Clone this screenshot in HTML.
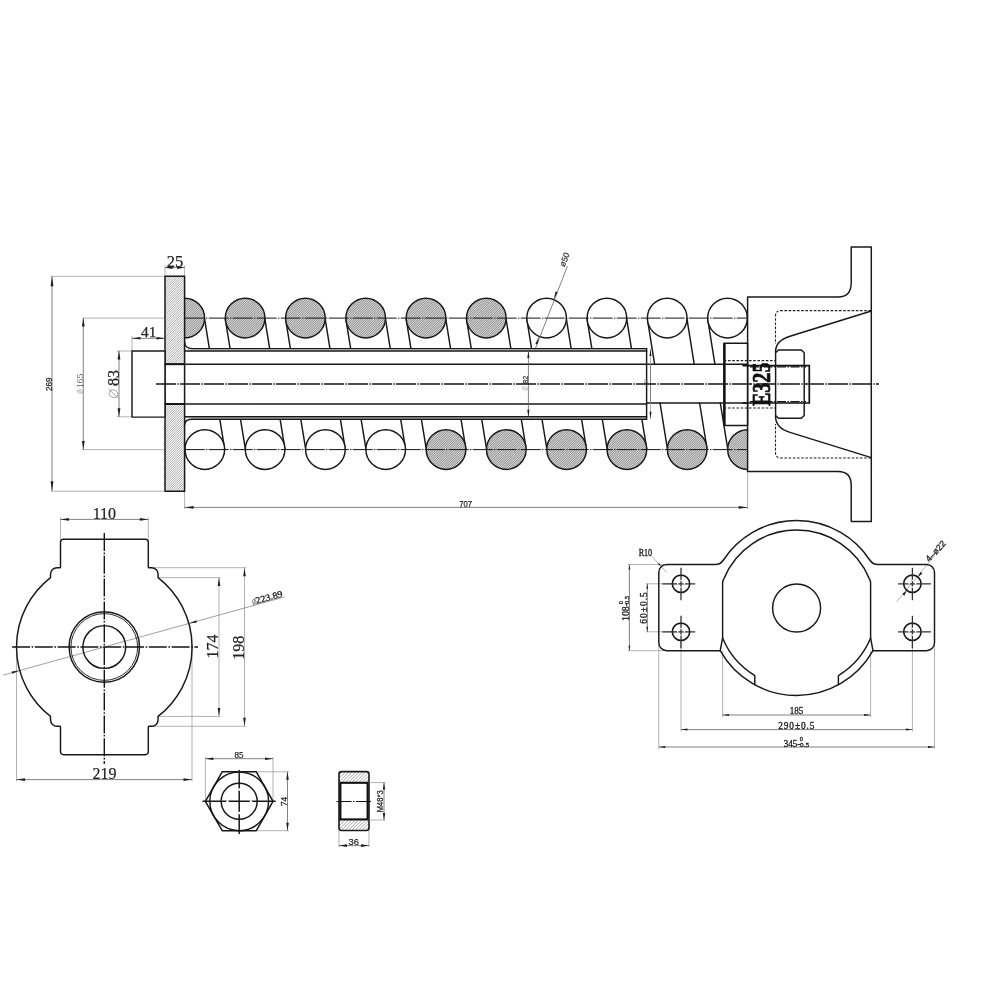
<!DOCTYPE html>
<html><head><meta charset="utf-8"><title>Drawing</title>
<style>html,body{margin:0;padding:0;background:#fff;}body{width:1000px;height:1000px;overflow:hidden;font-family:"Liberation Sans",sans-serif;}svg{display:block;filter:blur(0.3px)}</style>
</head><body>
<svg width="1000" height="1000" viewBox="0 0 1000 1000">
<defs>
<pattern id="h1" width="1.6" height="1.6" patternUnits="userSpaceOnUse" patternTransform="rotate(-45)"><rect width="1.6" height="1.6" fill="#fff"/><line x1="0" y1="0.8" x2="1.6" y2="0.8" stroke="#8a8a8a" stroke-width="0.55"/></pattern>
<pattern id="h2" width="1.7" height="1.7" patternUnits="userSpaceOnUse" patternTransform="rotate(-45)"><rect width="1.7" height="1.7" fill="#dcdcdc"/><line x1="0" y1="0.85" x2="1.7" y2="0.85" stroke="#6a6a6a" stroke-width="0.8"/></pattern>
<pattern id="h3" width="3" height="3" patternUnits="userSpaceOnUse" patternTransform="rotate(-45)"><rect width="3" height="3" fill="#fff"/><line x1="0" y1="1.5" x2="3" y2="1.5" stroke="#8a8a8a" stroke-width="0.8"/></pattern>
</defs>
<style>
.m{stroke:#181818;stroke-width:1.45;fill:none;stroke-linecap:round;stroke-linejoin:round}
.k{stroke:#111;stroke-width:1.9;fill:none;stroke-linecap:butt}
.t{stroke:#5a5a5a;stroke-width:0.75;fill:none}
.g{stroke:#9a9a9a;stroke-width:0.75;fill:none}
.c{stroke:#141414;stroke-width:1.4;fill:none;stroke-dasharray:20 1.3 1.4 1.3}
.c2{stroke:#141414;stroke-width:1.0;fill:none;stroke-dasharray:20 1.3 1.4 1.3}
.d{stroke:#222;stroke-width:1.1;fill:none;stroke-dasharray:2.6 1.6}
.af{fill:#1e1e1e;stroke:none}
</style>
<rect width="1000" height="1000" fill="#fff"/>

<line x1="51.00" y1="276.30" x2="165.00" y2="276.30" class="g" />
<line x1="51.00" y1="491.20" x2="165.00" y2="491.20" class="g" />
<line x1="52.00" y1="276.30" x2="52.00" y2="491.20" class="t" />
<polygon class="af" points="52.00,276.30 50.60,286.30 53.40,286.30"/>
<polygon class="af" points="52.00,491.20 53.40,481.20 50.60,481.20"/>
<text x="52.30" y="384.30" font-family="Liberation Sans" font-size="9.4" text-anchor="middle" fill="#222" transform="rotate(-90.00 52.30 384.30)"  textLength="13.5" lengthAdjust="spacingAndGlyphs" stroke="#222" stroke-width="0.25">269</text>
<line x1="82.00" y1="318.10" x2="165.00" y2="318.10" class="g" />
<line x1="82.00" y1="449.60" x2="165.00" y2="449.60" class="g" />
<line x1="83.30" y1="318.10" x2="83.30" y2="449.60" class="t" />
<polygon class="af" points="83.30,318.10 81.90,326.60 84.70,326.60"/>
<polygon class="af" points="83.30,449.60 84.70,441.10 81.90,441.10"/>
<text x="82.70" y="380.80" font-family="Liberation Serif" font-size="8.6" text-anchor="middle" fill="#555" transform="rotate(-90.00 82.70 380.80)"  textLength="14.5" lengthAdjust="spacingAndGlyphs">165</text>
<g transform="rotate(-90.00 80.00 391.60)"><ellipse cx="80.00" cy="391.60" rx="1.9" ry="2.5" fill="none" stroke="#999" stroke-width="0.6"/><line x1="78.48" y1="395.10" x2="81.52" y2="388.10" stroke="#999" stroke-width="0.6"/></g>
<line x1="117.00" y1="351.00" x2="132.00" y2="351.00" class="g" />
<line x1="117.00" y1="416.80" x2="132.00" y2="416.80" class="g" />
<line x1="119.00" y1="351.00" x2="119.00" y2="416.80" class="t" />
<polygon class="af" points="119.00,351.00 117.60,359.50 120.40,359.50"/>
<polygon class="af" points="119.00,416.80 120.40,408.30 117.60,408.30"/>
<text x="119.00" y="378.00" font-family="Liberation Serif" font-size="16" text-anchor="middle" fill="#222" transform="rotate(-90.00 119.00 378.00)"  stroke="#222" stroke-width="0.25">83</text>
<g transform="rotate(-72.00 113.50 393.70)"><ellipse cx="113.50" cy="393.70" rx="3.6" ry="4.4" fill="none" stroke="#888" stroke-width="0.7"/><line x1="110.62" y1="399.86" x2="116.38" y2="387.54" stroke="#888" stroke-width="0.7"/></g>
<line x1="132.00" y1="336.00" x2="132.00" y2="351.00" class="g" />
<line x1="132.00" y1="338.30" x2="165.00" y2="338.30" class="t" />
<polygon class="af" points="132.00,338.30 140.50,339.60 140.50,337.00"/>
<polygon class="af" points="165.00,338.30 156.50,337.00 156.50,339.60"/>
<text x="148.70" y="336.60" font-family="Liberation Serif" font-size="15.3" text-anchor="middle" fill="#222"  stroke="#222" stroke-width="0.25">41</text>
<line x1="165.00" y1="265.50" x2="165.00" y2="276.30" class="g" />
<line x1="184.60" y1="265.50" x2="184.60" y2="276.30" class="g" />
<line x1="165.00" y1="267.60" x2="184.60" y2="267.60" class="t" />
<polygon class="af" points="165.00,267.60 172.50,269.00 172.50,266.20"/>
<polygon class="af" points="184.60,267.60 177.10,266.20 177.10,269.00"/>
<text x="174.90" y="267.20" font-family="Liberation Serif" font-size="17.5" text-anchor="middle" fill="#222"  textLength="16.5" lengthAdjust="spacingAndGlyphs" stroke="#222" stroke-width="0.25">25</text>
<line x1="184.60" y1="491.20" x2="184.60" y2="509.00" class="g" />
<line x1="747.60" y1="471.00" x2="747.60" y2="509.00" class="g" />
<line x1="184.60" y1="507.40" x2="747.60" y2="507.40" class="t" />
<polygon class="af" points="184.60,507.40 193.60,508.70 193.60,506.10"/>
<polygon class="af" points="747.60,507.40 738.60,506.10 738.60,508.70"/>
<text x="465.60" y="507.00" font-family="Liberation Sans" font-size="9.2" text-anchor="middle" fill="#222"  textLength="12.8" lengthAdjust="spacingAndGlyphs" stroke="#222" stroke-width="0.25">707</text>
<line x1="165.00" y1="318.10" x2="184.70" y2="318.10" class="g" />
<line x1="165.00" y1="449.60" x2="184.70" y2="449.60" class="g" />
<line x1="204.60" y1="319.10" x2="209.37" y2="348.60" class="m" />
<line x1="225.30" y1="319.10" x2="230.07" y2="348.60" class="m" />
<line x1="264.90" y1="319.10" x2="269.67" y2="348.60" class="m" />
<line x1="285.60" y1="319.10" x2="290.37" y2="348.60" class="m" />
<line x1="325.20" y1="319.10" x2="329.97" y2="348.60" class="m" />
<line x1="345.90" y1="319.10" x2="350.67" y2="348.60" class="m" />
<line x1="385.50" y1="319.10" x2="390.27" y2="348.60" class="m" />
<line x1="406.20" y1="319.10" x2="410.97" y2="348.60" class="m" />
<line x1="445.80" y1="319.10" x2="450.57" y2="348.60" class="m" />
<line x1="466.50" y1="319.10" x2="471.27" y2="348.60" class="m" />
<line x1="506.10" y1="319.10" x2="510.87" y2="348.60" class="m" />
<line x1="526.80" y1="319.10" x2="531.57" y2="348.60" class="m" />
<line x1="566.40" y1="319.10" x2="571.17" y2="348.60" class="m" />
<line x1="587.10" y1="319.10" x2="591.87" y2="348.60" class="m" />
<line x1="626.70" y1="319.10" x2="631.47" y2="348.60" class="m" />
<line x1="647.40" y1="319.10" x2="654.60" y2="364.20" class="m" />
<line x1="687.00" y1="319.10" x2="694.20" y2="364.20" class="m" />
<line x1="707.70" y1="319.10" x2="714.90" y2="364.20" class="m" />
<line x1="180.17" y1="419.20" x2="185.00" y2="448.60" class="m" />
<line x1="219.77" y1="419.20" x2="224.60" y2="448.60" class="m" />
<line x1="240.47" y1="419.20" x2="245.30" y2="448.60" class="m" />
<line x1="280.07" y1="419.20" x2="284.90" y2="448.60" class="m" />
<line x1="300.77" y1="419.20" x2="305.60" y2="448.60" class="m" />
<line x1="340.37" y1="419.20" x2="345.20" y2="448.60" class="m" />
<line x1="361.07" y1="419.20" x2="365.90" y2="448.60" class="m" />
<line x1="400.67" y1="419.20" x2="405.50" y2="448.60" class="m" />
<line x1="421.37" y1="419.20" x2="426.20" y2="448.60" class="m" />
<line x1="460.97" y1="419.20" x2="465.80" y2="448.60" class="m" />
<line x1="481.67" y1="419.20" x2="486.50" y2="448.60" class="m" />
<line x1="521.27" y1="419.20" x2="526.10" y2="448.60" class="m" />
<line x1="541.97" y1="419.20" x2="546.80" y2="448.60" class="m" />
<line x1="581.57" y1="419.20" x2="586.40" y2="448.60" class="m" />
<line x1="602.27" y1="419.20" x2="607.10" y2="448.60" class="m" />
<line x1="641.87" y1="419.20" x2="646.70" y2="448.60" class="m" />
<line x1="660.00" y1="403.00" x2="667.40" y2="448.60" class="m" />
<line x1="699.60" y1="403.00" x2="707.00" y2="448.60" class="m" />
<line x1="720.30" y1="403.00" x2="727.70" y2="448.60" class="m" />
<clipPath id="cpm"><rect x="184.6" y="200" width="563.0" height="400"/></clipPath>
<g clip-path="url(#cpm)">
<circle cx="184.80" cy="318.1" r="19.8" fill="#fff"/>
<circle cx="245.10" cy="318.1" r="19.8" fill="#fff"/>
<circle cx="305.40" cy="318.1" r="19.8" fill="#fff"/>
<circle cx="365.70" cy="318.1" r="19.8" fill="#fff"/>
<circle cx="426.00" cy="318.1" r="19.8" fill="#fff"/>
<circle cx="486.30" cy="318.1" r="19.8" fill="#fff"/>
<circle cx="546.60" cy="318.1" r="19.8" fill="#fff"/>
<circle cx="606.90" cy="318.1" r="19.8" fill="#fff"/>
<circle cx="667.20" cy="318.1" r="19.8" fill="#fff"/>
<circle cx="727.50" cy="318.1" r="19.8" fill="#fff"/>
<circle cx="204.80" cy="449.6" r="19.8" fill="#fff"/>
<circle cx="265.10" cy="449.6" r="19.8" fill="#fff"/>
<circle cx="325.40" cy="449.6" r="19.8" fill="#fff"/>
<circle cx="385.70" cy="449.6" r="19.8" fill="#fff"/>
<circle cx="446.00" cy="449.6" r="19.8" fill="#fff"/>
<circle cx="506.30" cy="449.6" r="19.8" fill="#fff"/>
<circle cx="566.60" cy="449.6" r="19.8" fill="#fff"/>
<circle cx="626.90" cy="449.6" r="19.8" fill="#fff"/>
<circle cx="687.20" cy="449.6" r="19.8" fill="#fff"/>
<circle cx="747.50" cy="449.6" r="19.8" fill="#fff"/>
</g>
<clipPath id="hc1"><circle cx="245.10" cy="318.1" r="19.8"/><circle cx="305.40" cy="318.1" r="19.8"/><circle cx="365.70" cy="318.1" r="19.8"/><circle cx="426.00" cy="318.1" r="19.8"/><circle cx="486.30" cy="318.1" r="19.8"/><path d="M184.6,298.3 A19.8,19.8 0 0 1 184.6,337.90000000000003 Z"/></clipPath>
<g clip-path="url(#hc1)">
<rect x="184.6" y="297.3" width="322.5" height="41.60000000000002" fill="#d6d6d6"/>
<path d="M143.00,338.90l41.60,-41.60M145.28,338.90l41.60,-41.60M147.56,338.90l41.60,-41.60M149.84,338.90l41.60,-41.60M152.12,338.90l41.60,-41.60M154.40,338.90l41.60,-41.60M156.68,338.90l41.60,-41.60M158.96,338.90l41.60,-41.60M161.24,338.90l41.60,-41.60M163.52,338.90l41.60,-41.60M165.80,338.90l41.60,-41.60M168.08,338.90l41.60,-41.60M170.36,338.90l41.60,-41.60M172.64,338.90l41.60,-41.60M174.92,338.90l41.60,-41.60M177.20,338.90l41.60,-41.60M179.48,338.90l41.60,-41.60M181.76,338.90l41.60,-41.60M184.04,338.90l41.60,-41.60M186.32,338.90l41.60,-41.60M188.60,338.90l41.60,-41.60M190.88,338.90l41.60,-41.60M193.16,338.90l41.60,-41.60M195.44,338.90l41.60,-41.60M197.72,338.90l41.60,-41.60M200.00,338.90l41.60,-41.60M202.28,338.90l41.60,-41.60M204.56,338.90l41.60,-41.60M206.84,338.90l41.60,-41.60M209.12,338.90l41.60,-41.60M211.40,338.90l41.60,-41.60M213.68,338.90l41.60,-41.60M215.96,338.90l41.60,-41.60M218.24,338.90l41.60,-41.60M220.52,338.90l41.60,-41.60M222.80,338.90l41.60,-41.60M225.08,338.90l41.60,-41.60M227.36,338.90l41.60,-41.60M229.64,338.90l41.60,-41.60M231.92,338.90l41.60,-41.60M234.20,338.90l41.60,-41.60M236.48,338.90l41.60,-41.60M238.76,338.90l41.60,-41.60M241.04,338.90l41.60,-41.60M243.32,338.90l41.60,-41.60M245.60,338.90l41.60,-41.60M247.88,338.90l41.60,-41.60M250.16,338.90l41.60,-41.60M252.44,338.90l41.60,-41.60M254.72,338.90l41.60,-41.60M257.00,338.90l41.60,-41.60M259.28,338.90l41.60,-41.60M261.56,338.90l41.60,-41.60M263.84,338.90l41.60,-41.60M266.12,338.90l41.60,-41.60M268.40,338.90l41.60,-41.60M270.68,338.90l41.60,-41.60M272.96,338.90l41.60,-41.60M275.24,338.90l41.60,-41.60M277.52,338.90l41.60,-41.60M279.80,338.90l41.60,-41.60M282.08,338.90l41.60,-41.60M284.36,338.90l41.60,-41.60M286.64,338.90l41.60,-41.60M288.92,338.90l41.60,-41.60M291.20,338.90l41.60,-41.60M293.48,338.90l41.60,-41.60M295.76,338.90l41.60,-41.60M298.04,338.90l41.60,-41.60M300.32,338.90l41.60,-41.60M302.60,338.90l41.60,-41.60M304.88,338.90l41.60,-41.60M307.16,338.90l41.60,-41.60M309.44,338.90l41.60,-41.60M311.72,338.90l41.60,-41.60M314.00,338.90l41.60,-41.60M316.28,338.90l41.60,-41.60M318.56,338.90l41.60,-41.60M320.84,338.90l41.60,-41.60M323.12,338.90l41.60,-41.60M325.40,338.90l41.60,-41.60M327.68,338.90l41.60,-41.60M329.96,338.90l41.60,-41.60M332.24,338.90l41.60,-41.60M334.52,338.90l41.60,-41.60M336.80,338.90l41.60,-41.60M339.08,338.90l41.60,-41.60M341.36,338.90l41.60,-41.60M343.64,338.90l41.60,-41.60M345.92,338.90l41.60,-41.60M348.20,338.90l41.60,-41.60M350.48,338.90l41.60,-41.60M352.76,338.90l41.60,-41.60M355.04,338.90l41.60,-41.60M357.32,338.90l41.60,-41.60M359.60,338.90l41.60,-41.60M361.88,338.90l41.60,-41.60M364.16,338.90l41.60,-41.60M366.44,338.90l41.60,-41.60M368.72,338.90l41.60,-41.60M371.00,338.90l41.60,-41.60M373.28,338.90l41.60,-41.60M375.56,338.90l41.60,-41.60M377.84,338.90l41.60,-41.60M380.12,338.90l41.60,-41.60M382.40,338.90l41.60,-41.60M384.68,338.90l41.60,-41.60M386.96,338.90l41.60,-41.60M389.24,338.90l41.60,-41.60M391.52,338.90l41.60,-41.60M393.80,338.90l41.60,-41.60M396.08,338.90l41.60,-41.60M398.36,338.90l41.60,-41.60M400.64,338.90l41.60,-41.60M402.92,338.90l41.60,-41.60M405.20,338.90l41.60,-41.60M407.48,338.90l41.60,-41.60M409.76,338.90l41.60,-41.60M412.04,338.90l41.60,-41.60M414.32,338.90l41.60,-41.60M416.60,338.90l41.60,-41.60M418.88,338.90l41.60,-41.60M421.16,338.90l41.60,-41.60M423.44,338.90l41.60,-41.60M425.72,338.90l41.60,-41.60M428.00,338.90l41.60,-41.60M430.28,338.90l41.60,-41.60M432.56,338.90l41.60,-41.60M434.84,338.90l41.60,-41.60M437.12,338.90l41.60,-41.60M439.40,338.90l41.60,-41.60M441.68,338.90l41.60,-41.60M443.96,338.90l41.60,-41.60M446.24,338.90l41.60,-41.60M448.52,338.90l41.60,-41.60M450.80,338.90l41.60,-41.60M453.08,338.90l41.60,-41.60M455.36,338.90l41.60,-41.60M457.64,338.90l41.60,-41.60M459.92,338.90l41.60,-41.60M462.20,338.90l41.60,-41.60M464.48,338.90l41.60,-41.60M466.76,338.90l41.60,-41.60M469.04,338.90l41.60,-41.60M471.32,338.90l41.60,-41.60M473.60,338.90l41.60,-41.60M475.88,338.90l41.60,-41.60M478.16,338.90l41.60,-41.60M480.44,338.90l41.60,-41.60M482.72,338.90l41.60,-41.60M485.00,338.90l41.60,-41.60M487.28,338.90l41.60,-41.60M489.56,338.90l41.60,-41.60M491.84,338.90l41.60,-41.60M494.12,338.90l41.60,-41.60M496.40,338.90l41.60,-41.60M498.68,338.90l41.60,-41.60M500.96,338.90l41.60,-41.60M503.24,338.90l41.60,-41.60M505.52,338.90l41.60,-41.60" stroke="#6e6e6e" stroke-width="0.7" fill="none"/>
</g>
<clipPath id="hc2"><circle cx="446.00" cy="449.6" r="19.8"/><circle cx="506.30" cy="449.6" r="19.8"/><circle cx="566.60" cy="449.6" r="19.8"/><circle cx="626.90" cy="449.6" r="19.8"/><circle cx="687.20" cy="449.6" r="19.8"/><path d="M747.6,429.8 A19.8,19.8 0 0 0 747.6,469.40000000000003 Z"/></clipPath>
<g clip-path="url(#hc2)">
<rect x="425.2" y="428.8" width="322.40000000000003" height="41.60000000000002" fill="#d6d6d6"/>
<path d="M383.60,470.40l41.60,-41.60M385.88,470.40l41.60,-41.60M388.16,470.40l41.60,-41.60M390.44,470.40l41.60,-41.60M392.72,470.40l41.60,-41.60M395.00,470.40l41.60,-41.60M397.28,470.40l41.60,-41.60M399.56,470.40l41.60,-41.60M401.84,470.40l41.60,-41.60M404.12,470.40l41.60,-41.60M406.40,470.40l41.60,-41.60M408.68,470.40l41.60,-41.60M410.96,470.40l41.60,-41.60M413.24,470.40l41.60,-41.60M415.52,470.40l41.60,-41.60M417.80,470.40l41.60,-41.60M420.08,470.40l41.60,-41.60M422.36,470.40l41.60,-41.60M424.64,470.40l41.60,-41.60M426.92,470.40l41.60,-41.60M429.20,470.40l41.60,-41.60M431.48,470.40l41.60,-41.60M433.76,470.40l41.60,-41.60M436.04,470.40l41.60,-41.60M438.32,470.40l41.60,-41.60M440.60,470.40l41.60,-41.60M442.88,470.40l41.60,-41.60M445.16,470.40l41.60,-41.60M447.44,470.40l41.60,-41.60M449.72,470.40l41.60,-41.60M452.00,470.40l41.60,-41.60M454.28,470.40l41.60,-41.60M456.56,470.40l41.60,-41.60M458.84,470.40l41.60,-41.60M461.12,470.40l41.60,-41.60M463.40,470.40l41.60,-41.60M465.68,470.40l41.60,-41.60M467.96,470.40l41.60,-41.60M470.24,470.40l41.60,-41.60M472.52,470.40l41.60,-41.60M474.80,470.40l41.60,-41.60M477.08,470.40l41.60,-41.60M479.36,470.40l41.60,-41.60M481.64,470.40l41.60,-41.60M483.92,470.40l41.60,-41.60M486.20,470.40l41.60,-41.60M488.48,470.40l41.60,-41.60M490.76,470.40l41.60,-41.60M493.04,470.40l41.60,-41.60M495.32,470.40l41.60,-41.60M497.60,470.40l41.60,-41.60M499.88,470.40l41.60,-41.60M502.16,470.40l41.60,-41.60M504.44,470.40l41.60,-41.60M506.72,470.40l41.60,-41.60M509.00,470.40l41.60,-41.60M511.28,470.40l41.60,-41.60M513.56,470.40l41.60,-41.60M515.84,470.40l41.60,-41.60M518.12,470.40l41.60,-41.60M520.40,470.40l41.60,-41.60M522.68,470.40l41.60,-41.60M524.96,470.40l41.60,-41.60M527.24,470.40l41.60,-41.60M529.52,470.40l41.60,-41.60M531.80,470.40l41.60,-41.60M534.08,470.40l41.60,-41.60M536.36,470.40l41.60,-41.60M538.64,470.40l41.60,-41.60M540.92,470.40l41.60,-41.60M543.20,470.40l41.60,-41.60M545.48,470.40l41.60,-41.60M547.76,470.40l41.60,-41.60M550.04,470.40l41.60,-41.60M552.32,470.40l41.60,-41.60M554.60,470.40l41.60,-41.60M556.88,470.40l41.60,-41.60M559.16,470.40l41.60,-41.60M561.44,470.40l41.60,-41.60M563.72,470.40l41.60,-41.60M566.00,470.40l41.60,-41.60M568.28,470.40l41.60,-41.60M570.56,470.40l41.60,-41.60M572.84,470.40l41.60,-41.60M575.12,470.40l41.60,-41.60M577.40,470.40l41.60,-41.60M579.68,470.40l41.60,-41.60M581.96,470.40l41.60,-41.60M584.24,470.40l41.60,-41.60M586.52,470.40l41.60,-41.60M588.80,470.40l41.60,-41.60M591.08,470.40l41.60,-41.60M593.36,470.40l41.60,-41.60M595.64,470.40l41.60,-41.60M597.92,470.40l41.60,-41.60M600.20,470.40l41.60,-41.60M602.48,470.40l41.60,-41.60M604.76,470.40l41.60,-41.60M607.04,470.40l41.60,-41.60M609.32,470.40l41.60,-41.60M611.60,470.40l41.60,-41.60M613.88,470.40l41.60,-41.60M616.16,470.40l41.60,-41.60M618.44,470.40l41.60,-41.60M620.72,470.40l41.60,-41.60M623.00,470.40l41.60,-41.60M625.28,470.40l41.60,-41.60M627.56,470.40l41.60,-41.60M629.84,470.40l41.60,-41.60M632.12,470.40l41.60,-41.60M634.40,470.40l41.60,-41.60M636.68,470.40l41.60,-41.60M638.96,470.40l41.60,-41.60M641.24,470.40l41.60,-41.60M643.52,470.40l41.60,-41.60M645.80,470.40l41.60,-41.60M648.08,470.40l41.60,-41.60M650.36,470.40l41.60,-41.60M652.64,470.40l41.60,-41.60M654.92,470.40l41.60,-41.60M657.20,470.40l41.60,-41.60M659.48,470.40l41.60,-41.60M661.76,470.40l41.60,-41.60M664.04,470.40l41.60,-41.60M666.32,470.40l41.60,-41.60M668.60,470.40l41.60,-41.60M670.88,470.40l41.60,-41.60M673.16,470.40l41.60,-41.60M675.44,470.40l41.60,-41.60M677.72,470.40l41.60,-41.60M680.00,470.40l41.60,-41.60M682.28,470.40l41.60,-41.60M684.56,470.40l41.60,-41.60M686.84,470.40l41.60,-41.60M689.12,470.40l41.60,-41.60M691.40,470.40l41.60,-41.60M693.68,470.40l41.60,-41.60M695.96,470.40l41.60,-41.60M698.24,470.40l41.60,-41.60M700.52,470.40l41.60,-41.60M702.80,470.40l41.60,-41.60M705.08,470.40l41.60,-41.60M707.36,470.40l41.60,-41.60M709.64,470.40l41.60,-41.60M711.92,470.40l41.60,-41.60M714.20,470.40l41.60,-41.60M716.48,470.40l41.60,-41.60M718.76,470.40l41.60,-41.60M721.04,470.40l41.60,-41.60M723.32,470.40l41.60,-41.60M725.60,470.40l41.60,-41.60M727.88,470.40l41.60,-41.60M730.16,470.40l41.60,-41.60M732.44,470.40l41.60,-41.60M734.72,470.40l41.60,-41.60M737.00,470.40l41.60,-41.60M739.28,470.40l41.60,-41.60M741.56,470.40l41.60,-41.60M743.84,470.40l41.60,-41.60M746.12,470.40l41.60,-41.60" stroke="#6e6e6e" stroke-width="0.7" fill="none"/>
</g>
<g clip-path="url(#cpm)">
<circle cx="184.80" cy="318.1" r="19.8" class="m"/>
<circle cx="245.10" cy="318.1" r="19.8" class="m"/>
<circle cx="305.40" cy="318.1" r="19.8" class="m"/>
<circle cx="365.70" cy="318.1" r="19.8" class="m"/>
<circle cx="426.00" cy="318.1" r="19.8" class="m"/>
<circle cx="486.30" cy="318.1" r="19.8" class="m"/>
<circle cx="546.60" cy="318.1" r="19.8" class="m"/>
<circle cx="606.90" cy="318.1" r="19.8" class="m"/>
<circle cx="667.20" cy="318.1" r="19.8" class="m"/>
<circle cx="727.50" cy="318.1" r="19.8" class="m"/>
<circle cx="204.80" cy="449.6" r="19.8" class="m"/>
<circle cx="265.10" cy="449.6" r="19.8" class="m"/>
<circle cx="325.40" cy="449.6" r="19.8" class="m"/>
<circle cx="385.70" cy="449.6" r="19.8" class="m"/>
<circle cx="446.00" cy="449.6" r="19.8" class="m"/>
<circle cx="506.30" cy="449.6" r="19.8" class="m"/>
<circle cx="566.60" cy="449.6" r="19.8" class="m"/>
<circle cx="626.90" cy="449.6" r="19.8" class="m"/>
<circle cx="687.20" cy="449.6" r="19.8" class="m"/>
<circle cx="747.50" cy="449.6" r="19.8" class="m"/>
</g>
<line x1="184.70" y1="318.10" x2="747.00" y2="318.10" class="c2" />
<line x1="184.70" y1="449.60" x2="747.00" y2="449.60" class="c2" />
<clipPath id="hc3"><rect x="165.0" y="276.3" width="19.599999999999994" height="87.89999999999998"/><rect x="165.0" y="404.0" width="19.599999999999994" height="87.19999999999999"/></clipPath>
<g clip-path="url(#hc3)">
<rect x="165.0" y="276.3" width="19.599999999999994" height="214.89999999999998" fill="#ffffff"/>
<path d="M-49.90,491.20l214.90,-214.90M-47.62,491.20l214.90,-214.90M-45.34,491.20l214.90,-214.90M-43.06,491.20l214.90,-214.90M-40.78,491.20l214.90,-214.90M-38.50,491.20l214.90,-214.90M-36.22,491.20l214.90,-214.90M-33.94,491.20l214.90,-214.90M-31.66,491.20l214.90,-214.90M-29.38,491.20l214.90,-214.90M-27.10,491.20l214.90,-214.90M-24.82,491.20l214.90,-214.90M-22.54,491.20l214.90,-214.90M-20.26,491.20l214.90,-214.90M-17.98,491.20l214.90,-214.90M-15.70,491.20l214.90,-214.90M-13.42,491.20l214.90,-214.90M-11.14,491.20l214.90,-214.90M-8.86,491.20l214.90,-214.90M-6.58,491.20l214.90,-214.90M-4.30,491.20l214.90,-214.90M-2.02,491.20l214.90,-214.90M0.26,491.20l214.90,-214.90M2.54,491.20l214.90,-214.90M4.82,491.20l214.90,-214.90M7.10,491.20l214.90,-214.90M9.38,491.20l214.90,-214.90M11.66,491.20l214.90,-214.90M13.94,491.20l214.90,-214.90M16.22,491.20l214.90,-214.90M18.50,491.20l214.90,-214.90M20.78,491.20l214.90,-214.90M23.06,491.20l214.90,-214.90M25.34,491.20l214.90,-214.90M27.62,491.20l214.90,-214.90M29.90,491.20l214.90,-214.90M32.18,491.20l214.90,-214.90M34.46,491.20l214.90,-214.90M36.74,491.20l214.90,-214.90M39.02,491.20l214.90,-214.90M41.30,491.20l214.90,-214.90M43.58,491.20l214.90,-214.90M45.86,491.20l214.90,-214.90M48.14,491.20l214.90,-214.90M50.42,491.20l214.90,-214.90M52.70,491.20l214.90,-214.90M54.98,491.20l214.90,-214.90M57.26,491.20l214.90,-214.90M59.54,491.20l214.90,-214.90M61.82,491.20l214.90,-214.90M64.10,491.20l214.90,-214.90M66.38,491.20l214.90,-214.90M68.66,491.20l214.90,-214.90M70.94,491.20l214.90,-214.90M73.22,491.20l214.90,-214.90M75.50,491.20l214.90,-214.90M77.78,491.20l214.90,-214.90M80.06,491.20l214.90,-214.90M82.34,491.20l214.90,-214.90M84.62,491.20l214.90,-214.90M86.90,491.20l214.90,-214.90M89.18,491.20l214.90,-214.90M91.46,491.20l214.90,-214.90M93.74,491.20l214.90,-214.90M96.02,491.20l214.90,-214.90M98.30,491.20l214.90,-214.90M100.58,491.20l214.90,-214.90M102.86,491.20l214.90,-214.90M105.14,491.20l214.90,-214.90M107.42,491.20l214.90,-214.90M109.70,491.20l214.90,-214.90M111.98,491.20l214.90,-214.90M114.26,491.20l214.90,-214.90M116.54,491.20l214.90,-214.90M118.82,491.20l214.90,-214.90M121.10,491.20l214.90,-214.90M123.38,491.20l214.90,-214.90M125.66,491.20l214.90,-214.90M127.94,491.20l214.90,-214.90M130.22,491.20l214.90,-214.90M132.50,491.20l214.90,-214.90M134.78,491.20l214.90,-214.90M137.06,491.20l214.90,-214.90M139.34,491.20l214.90,-214.90M141.62,491.20l214.90,-214.90M143.90,491.20l214.90,-214.90M146.18,491.20l214.90,-214.90M148.46,491.20l214.90,-214.90M150.74,491.20l214.90,-214.90M153.02,491.20l214.90,-214.90M155.30,491.20l214.90,-214.90M157.58,491.20l214.90,-214.90M159.86,491.20l214.90,-214.90M162.14,491.20l214.90,-214.90M164.42,491.20l214.90,-214.90M166.70,491.20l214.90,-214.90M168.98,491.20l214.90,-214.90M171.26,491.20l214.90,-214.90M173.54,491.20l214.90,-214.90M175.82,491.20l214.90,-214.90M178.10,491.20l214.90,-214.90M180.38,491.20l214.90,-214.90M182.66,491.20l214.90,-214.90" stroke="#858585" stroke-width="0.7" fill="none"/>
</g>
<rect x="165.0" y="276.3" width="19.599999999999994" height="214.89999999999998" class="m" style="stroke-width:1.5"/>
<rect x="132" y="351.0" width="33" height="66.10000000000001" class="m" style="fill:#fff"/>
<rect x="187.6" y="348.6" width="459.0" height="2.4" fill="#dadada"/>
<rect x="187.6" y="416.8" width="459.0" height="2.4" fill="#dadada"/>
<path class="m" d="M184.6,342.0 Q184.9,348.6 192.1,348.6 L646.6,348.6"/>
<path class="m" d="M184.6,424.8 Q184.9,419.2 192.1,419.2 L646.6,419.2"/>
<line x1="184.60" y1="351.00" x2="646.60" y2="351.00" class="m" />
<line x1="184.60" y1="416.80" x2="646.60" y2="416.80" class="m" />
<line x1="646.60" y1="348.60" x2="646.60" y2="419.20" class="m" />
<line x1="165.00" y1="364.20" x2="723.80" y2="364.20" class="m" />
<line x1="165.00" y1="404.00" x2="646.60" y2="404.00" class="m" />
<line x1="646.60" y1="403.00" x2="723.80" y2="403.00" class="m" />
<line x1="165.00" y1="364.20" x2="184.60" y2="364.20" class="k" />
<line x1="165.00" y1="404.00" x2="184.60" y2="404.00" class="k" />
<line x1="650.50" y1="364.20" x2="650.50" y2="403.00" class="m" style="stroke-width:0.9"/>
<line x1="650.50" y1="349.00" x2="650.50" y2="418.80" class="g" />
<polygon class="af" points="650.50,349.00 649.50,356.00 651.50,356.00"/>
<polygon class="af" points="650.50,418.80 651.50,411.80 649.50,411.80"/>
<text x="648.30" y="381.50" font-family="Liberation Sans" font-size="4.5" text-anchor="middle" fill="#888" transform="rotate(-90.00 648.30 381.50)" >82</text>
<line x1="528.40" y1="351.00" x2="528.40" y2="416.80" class="t" />
<polygon class="af" points="528.40,351.00 527.30,358.00 529.50,358.00"/>
<polygon class="af" points="528.40,416.80 529.50,409.80 527.30,409.80"/>
<text x="527.80" y="379.70" font-family="Liberation Sans" font-size="8" text-anchor="middle" fill="#333" transform="rotate(-90.00 527.80 379.70)"  textLength="8" lengthAdjust="spacingAndGlyphs" stroke="#333" stroke-width="0.2">82</text>
<g transform="rotate(-90.00 525.00 388.50)"><ellipse cx="525.00" cy="388.50" rx="1.7" ry="2.5" fill="none" stroke="#aaa" stroke-width="0.6"/><line x1="523.64" y1="392.00" x2="526.36" y2="385.00" stroke="#aaa" stroke-width="0.6"/></g>
<line x1="567.50" y1="266.00" x2="535.60" y2="348.00" class="t" />
<polygon class="af" points="553.70,299.40 557.62,292.34 555.57,291.54"/>
<polygon class="af" points="539.30,336.60 535.38,343.66 537.43,344.46"/>
<text x="564.60" y="267.20" font-family="Liberation Sans" font-size="8.3" text-anchor="start" fill="#333" transform="rotate(-68.81 564.60 267.20)"  stroke="#333" stroke-width="0.2">ø50</text>
<rect x="723.8" y="343.3" width="23.8" height="82.2" class="m" style="fill:#fff"/>
<line x1="724.70" y1="343.30" x2="724.70" y2="425.50" class="k" />
<line x1="723.80" y1="364.20" x2="747.60" y2="364.20" class="m" />
<line x1="723.80" y1="403.00" x2="747.60" y2="403.00" class="m" />
<path class="m" d="M747.6,297 L838,297 Q851.2,297 851.2,283 L851.2,247 L871.3,247 L871.3,521.4 L851.2,521.4 L851.2,485 Q851.2,471.4 838,471.4 L747.6,471.4 Z"/>
<path class="d" d="M871,310.6 L781,310.6 Q775.5,310.6 775.5,316 L775.5,344"/>
<path class="d" d="M871,458 L781,458 Q775.5,458 775.5,452.5 L775.5,424"/>
<line x1="723.80" y1="360.60" x2="775.50" y2="360.60" class="d" />
<line x1="723.80" y1="408.00" x2="775.50" y2="408.00" class="d" />
<path class="m" d="M871.3,311 L790,336.2 Q775.5,340.5 775.5,352"/>
<path class="m" d="M871.3,457.6 L790,432.4 Q775.5,428 775.5,416"/>
<path class="m" d="M775.6,352.8 L778.4,350 L801.4,350 L804.2,352.8 L804.2,415.4 L801.4,418.2 L778.4,418.2 L775.6,415.4 Z"/>
<path class="k" d="M742.5,365.6 L809.3,365.6 L809.3,403 L742.5,403" style="stroke-width:1.7"/>
<line x1="750.00" y1="366.90" x2="806.00" y2="366.90" class="c2" style="stroke-dasharray:9 1.5 1.5 1.5;stroke-width:1.1"/>
<line x1="750.00" y1="401.60" x2="806.00" y2="401.60" class="c2" style="stroke-dasharray:9 1.5 1.5 1.5;stroke-width:1.1"/>
<text x="770.20" y="384.30" font-family="Liberation Serif" font-size="25" text-anchor="middle" fill="#111" transform="rotate(-90.00 770.20 384.30)" font-weight="bold" stroke-linejoin="round" textLength="43.5" lengthAdjust="spacingAndGlyphs" stroke="#111" stroke-width="0.75">E325</text>
<line x1="156.00" y1="384.00" x2="879.00" y2="384.00" class="c" />
<line x1="658.80" y1="644.70" x2="658.80" y2="749.00" class="g" />
<line x1="681.00" y1="640.00" x2="681.00" y2="731.50" class="g" />
<line x1="722.60" y1="650.70" x2="722.60" y2="717.00" class="g" />
<line x1="870.60" y1="650.70" x2="870.60" y2="717.00" class="g" />
<line x1="912.40" y1="640.00" x2="912.40" y2="731.50" class="g" />
<line x1="934.50" y1="644.70" x2="934.50" y2="749.00" class="g" />
<line x1="722.60" y1="715.00" x2="870.60" y2="715.00" class="t" />
<polygon class="af" points="722.60,715.00 729.10,716.00 729.10,714.00"/>
<polygon class="af" points="870.60,715.00 864.10,714.00 864.10,716.00"/>
<line x1="681.00" y1="729.60" x2="912.40" y2="729.60" class="t" />
<polygon class="af" points="681.00,729.60 687.50,730.60 687.50,728.60"/>
<polygon class="af" points="912.40,729.60 905.90,728.60 905.90,730.60"/>
<line x1="658.80" y1="747.00" x2="934.50" y2="747.00" class="t" />
<polygon class="af" points="658.80,747.00 665.30,748.00 665.30,746.00"/>
<polygon class="af" points="934.50,747.00 928.00,746.00 928.00,748.00"/>
<text x="796.50" y="714.20" font-family="Liberation Serif" font-size="9.3" text-anchor="middle" fill="#1a1a1a"  textLength="13.5" lengthAdjust="spacingAndGlyphs" stroke="#1a1a1a" stroke-width="0.3">185</text>
<text x="796.30" y="728.60" font-family="Liberation Serif" font-size="9.3" text-anchor="middle" fill="#1a1a1a"  textLength="36.0" lengthAdjust="spacing" stroke="#1a1a1a" stroke-width="0.3">290±0.5</text>
<text x="792.00" y="746.80" font-family="Liberation Serif" font-size="9.3" text-anchor="middle" fill="#1a1a1a"  textLength="16.5" lengthAdjust="spacingAndGlyphs" stroke="#1a1a1a" stroke-width="0.3">345-</text>
<text x="801.40" y="741.40" font-family="Liberation Serif" font-size="6.5" text-anchor="middle" fill="#1a1a1a"  textLength="3.2" lengthAdjust="spacingAndGlyphs" stroke="#1a1a1a" stroke-width="0.3">0</text>
<text x="804.60" y="747.20" font-family="Liberation Serif" font-size="6.5" text-anchor="middle" fill="#1a1a1a"  textLength="9.0" lengthAdjust="spacingAndGlyphs" stroke="#1a1a1a" stroke-width="0.3">0.5</text>
<line x1="628.00" y1="564.50" x2="663.80" y2="564.50" class="g" />
<line x1="628.00" y1="650.70" x2="663.80" y2="650.70" class="g" />
<line x1="629.40" y1="564.50" x2="629.40" y2="650.70" class="t" />
<polygon class="af" points="629.40,564.50 628.50,569.50 630.30,569.50"/>
<polygon class="af" points="629.40,650.70 630.30,645.70 628.50,645.70"/>
<text x="629.00" y="612.00" font-family="Liberation Serif" font-size="9.3" text-anchor="middle" fill="#1a1a1a" transform="rotate(-90.00 629.00 612.00)"  textLength="18.0" lengthAdjust="spacingAndGlyphs" stroke="#1a1a1a" stroke-width="0.3">108-</text>
<text x="622.60" y="602.60" font-family="Liberation Serif" font-size="6.5" text-anchor="middle" fill="#1a1a1a" transform="rotate(-90.00 622.60 602.60)"  textLength="3.2" lengthAdjust="spacingAndGlyphs" stroke="#1a1a1a" stroke-width="0.3">0</text>
<text x="629.00" y="600.00" font-family="Liberation Serif" font-size="6.5" text-anchor="middle" fill="#1a1a1a" transform="rotate(-90.00 629.00 600.00)"  textLength="8.5" lengthAdjust="spacingAndGlyphs" stroke="#1a1a1a" stroke-width="0.3">0.5</text>
<line x1="646.00" y1="583.80" x2="681.00" y2="583.80" class="g" />
<line x1="646.00" y1="631.80" x2="681.00" y2="631.80" class="g" />
<line x1="647.30" y1="583.80" x2="647.30" y2="631.80" class="t" />
<polygon class="af" points="647.30,583.80 646.40,588.80 648.20,588.80"/>
<polygon class="af" points="647.30,631.80 648.20,626.80 646.40,626.80"/>
<text x="646.80" y="608.00" font-family="Liberation Serif" font-size="9.3" text-anchor="middle" fill="#1a1a1a" transform="rotate(-90.00 646.80 608.00)"  textLength="31.5" lengthAdjust="spacing" stroke="#1a1a1a" stroke-width="0.3">60±0.5</text>
<text x="645.40" y="556.40" font-family="Liberation Serif" font-size="9.3" text-anchor="middle" fill="#1a1a1a"  textLength="13.5" lengthAdjust="spacingAndGlyphs" stroke="#1a1a1a" stroke-width="0.3">R10</text>
<line x1="652.00" y1="556.60" x2="666.80" y2="572.60" class="g" />
<polygon class="af" points="661.20,566.50 659.07,563.02 657.90,564.11"/>
<line x1="896.80" y1="601.60" x2="935.00" y2="555.00" class="g" />
<polygon class="af" points="917.98,576.99 922.47,573.57 920.46,571.92"/>
<polygon class="af" points="906.82,590.61 902.33,594.03 904.34,595.68"/>
<text x="929.30" y="562.30" font-family="Liberation Sans" font-size="8.8" text-anchor="start" fill="#222" transform="rotate(-47.00 929.30 562.30)"  textLength="25" lengthAdjust="spacingAndGlyphs" stroke="#222" stroke-width="0.3">4–ø22</text>
<path class="m" d="M720.23,650.7 L666.8,650.7 A8.0,8.0 0 0 1 658.8,642.7 L658.8,572.5 A8.0,8.0 0 0 1 666.8,564.5 L715.09,564.5 A10.0,10.0 0 0 0 723.45,559.99 A87.5,87.5 0 0 1 869.75,559.99 A10.0,10.0 0 0 0 878.11,564.5 L926.5,564.5 A8.0,8.0 0 0 1 934.5,572.5 L934.5,642.7 A8.0,8.0 0 0 1 926.5,650.7 L872.97,650.7"/>
<path class="m" d="M722.60,638.0 L720.23,650.7 A87.5,87.5 0 0 0 872.97,650.7 L870.60,638.0"/>
<path class="m" d="M722.60,638.0 L722.60,583.21 Q722.60,580.61 723.90,578.61 A78.7,78.7 0 0 1 869.30,578.61 Q870.60,580.61 870.60,583.21 L870.60,638.0"/>
<path class="m" d="M722.60,638.0 A79.4,79.4 0 0 0 754.80,675.51 L754.80,684.87"/>
<path class="m" d="M870.60,638.0 A79.4,79.4 0 0 1 838.40,675.51 L838.40,684.87"/>
<circle cx="796.6" cy="608.0" r="24" class="m"/>
<circle cx="681.0" cy="583.8" r="8.7" class="m" style="stroke-width:1.65"/>
<line x1="695.30" y1="583.80" x2="662.40" y2="583.80" class="m" style="stroke-width:1.3;stroke:#333;stroke-linecap:butt"/>
<line x1="681.00" y1="567.80" x2="681.00" y2="600.20" class="m" style="stroke-width:1.3;stroke:#333;stroke-linecap:butt"/>
<line x1="677.00" y1="583.80" x2="678.40" y2="583.80" class="m" style="stroke:#fff;stroke-width:1.5;stroke-linecap:butt"/>
<line x1="683.60" y1="583.80" x2="685.00" y2="583.80" class="m" style="stroke:#fff;stroke-width:1.5;stroke-linecap:butt"/>
<line x1="681.00" y1="579.80" x2="681.00" y2="581.20" class="m" style="stroke:#fff;stroke-width:1.5;stroke-linecap:butt"/>
<line x1="681.00" y1="586.40" x2="681.00" y2="587.80" class="m" style="stroke:#fff;stroke-width:1.5;stroke-linecap:butt"/>
<circle cx="681.0" cy="631.8" r="8.7" class="m" style="stroke-width:1.65"/>
<line x1="695.30" y1="631.80" x2="662.40" y2="631.80" class="m" style="stroke-width:1.3;stroke:#333;stroke-linecap:butt"/>
<line x1="681.00" y1="615.80" x2="681.00" y2="648.20" class="m" style="stroke-width:1.3;stroke:#333;stroke-linecap:butt"/>
<line x1="677.00" y1="631.80" x2="678.40" y2="631.80" class="m" style="stroke:#fff;stroke-width:1.5;stroke-linecap:butt"/>
<line x1="683.60" y1="631.80" x2="685.00" y2="631.80" class="m" style="stroke:#fff;stroke-width:1.5;stroke-linecap:butt"/>
<line x1="681.00" y1="627.80" x2="681.00" y2="629.20" class="m" style="stroke:#fff;stroke-width:1.5;stroke-linecap:butt"/>
<line x1="681.00" y1="634.40" x2="681.00" y2="635.80" class="m" style="stroke:#fff;stroke-width:1.5;stroke-linecap:butt"/>
<circle cx="912.4" cy="583.8" r="8.7" class="m" style="stroke-width:1.65"/>
<line x1="898.10" y1="583.80" x2="931.00" y2="583.80" class="m" style="stroke-width:1.3;stroke:#333;stroke-linecap:butt"/>
<line x1="912.40" y1="567.80" x2="912.40" y2="600.20" class="m" style="stroke-width:1.3;stroke:#333;stroke-linecap:butt"/>
<line x1="908.40" y1="583.80" x2="909.80" y2="583.80" class="m" style="stroke:#fff;stroke-width:1.5;stroke-linecap:butt"/>
<line x1="915.00" y1="583.80" x2="916.40" y2="583.80" class="m" style="stroke:#fff;stroke-width:1.5;stroke-linecap:butt"/>
<line x1="912.40" y1="579.80" x2="912.40" y2="581.20" class="m" style="stroke:#fff;stroke-width:1.5;stroke-linecap:butt"/>
<line x1="912.40" y1="586.40" x2="912.40" y2="587.80" class="m" style="stroke:#fff;stroke-width:1.5;stroke-linecap:butt"/>
<circle cx="912.4" cy="631.8" r="8.7" class="m" style="stroke-width:1.65"/>
<line x1="898.10" y1="631.80" x2="931.00" y2="631.80" class="m" style="stroke-width:1.3;stroke:#333;stroke-linecap:butt"/>
<line x1="912.40" y1="615.80" x2="912.40" y2="648.20" class="m" style="stroke-width:1.3;stroke:#333;stroke-linecap:butt"/>
<line x1="908.40" y1="631.80" x2="909.80" y2="631.80" class="m" style="stroke:#fff;stroke-width:1.5;stroke-linecap:butt"/>
<line x1="915.00" y1="631.80" x2="916.40" y2="631.80" class="m" style="stroke:#fff;stroke-width:1.5;stroke-linecap:butt"/>
<line x1="912.40" y1="627.80" x2="912.40" y2="629.20" class="m" style="stroke:#fff;stroke-width:1.5;stroke-linecap:butt"/>
<line x1="912.40" y1="634.40" x2="912.40" y2="635.80" class="m" style="stroke:#fff;stroke-width:1.5;stroke-linecap:butt"/>
<line x1="60.50" y1="517.50" x2="60.50" y2="539.30" class="g" />
<line x1="148.30" y1="517.50" x2="148.30" y2="539.30" class="g" />
<line x1="60.50" y1="519.40" x2="148.30" y2="519.40" class="t" />
<polygon class="af" points="60.50,519.40 69.00,520.70 69.00,518.10"/>
<polygon class="af" points="148.30,519.40 139.80,518.10 139.80,520.70"/>
<text x="104.40" y="518.70" font-family="Liberation Serif" font-size="16" text-anchor="middle" fill="#222"  stroke="#222" stroke-width="0.2">110</text>
<line x1="16.50" y1="647.00" x2="16.50" y2="781.50" class="g" />
<line x1="192.00" y1="647.00" x2="192.00" y2="781.50" class="g" />
<line x1="16.50" y1="779.60" x2="192.00" y2="779.60" class="t" />
<polygon class="af" points="16.50,779.60 25.00,780.90 25.00,778.30"/>
<polygon class="af" points="192.00,779.60 183.50,778.30 183.50,780.90"/>
<text x="104.60" y="778.70" font-family="Liberation Serif" font-size="16" text-anchor="middle" fill="#222"  stroke="#222" stroke-width="0.2">219</text>
<line x1="159.00" y1="577.60" x2="220.50" y2="577.60" class="g" />
<line x1="159.00" y1="716.40" x2="220.50" y2="716.40" class="g" />
<line x1="219.00" y1="577.60" x2="219.00" y2="716.40" class="g" />
<polygon class="af" points="219.00,577.60 217.70,586.10 220.30,586.10"/>
<polygon class="af" points="219.00,716.40 220.30,707.90 217.70,707.90"/>
<text x="218.40" y="646.60" font-family="Liberation Serif" font-size="16" text-anchor="middle" fill="#222" transform="rotate(-90.00 218.40 646.60)"  stroke="#222" stroke-width="0.2">174</text>
<line x1="152.50" y1="567.70" x2="246.20" y2="567.70" class="g" />
<line x1="152.50" y1="726.30" x2="246.20" y2="726.30" class="g" />
<line x1="244.50" y1="567.70" x2="244.50" y2="726.30" class="g" />
<polygon class="af" points="244.50,567.70 243.20,576.20 245.80,576.20"/>
<polygon class="af" points="244.50,726.30 245.80,717.80 243.20,717.80"/>
<text x="244.00" y="647.80" font-family="Liberation Serif" font-size="16" text-anchor="middle" fill="#222" transform="rotate(-90.00 244.00 647.80)"  stroke="#222" stroke-width="0.2">198</text>
<line x1="3.00" y1="675.16" x2="284.50" y2="596.90" class="t" style="stroke:#777;stroke-width:0.7"/>
<polygon class="af" points="19.71,670.52 11.71,671.60 12.29,673.72"/>
<polygon class="af" points="188.89,623.48 196.89,622.40 196.31,620.28"/>
<g transform="rotate(-15.54 254.20 601.73)"><ellipse cx="254.20" cy="601.73" rx="1.7" ry="2.3" fill="none" stroke="#555" stroke-width="0.6"/><line x1="252.84" y1="604.95" x2="255.56" y2="598.51" stroke="#555" stroke-width="0.6"/></g>
<text x="256.60" y="603.86" font-family="Liberation Serif" font-size="9.3" text-anchor="start" fill="#1a1a1a" transform="rotate(-15.54 256.60 603.86)"  textLength="27.5" lengthAdjust="spacingAndGlyphs" stroke="#1a1a1a" stroke-width="0.3">223.89</text>
<path class="m" d="M63.5,539.3 L145.3,539.3 A3,3 0 0 1 148.3,542.3 L148.3,566.9000000000001 Q148.3,567.7 149.10000000000002,567.7 L151.60000000000002,567.7 A6.48,6.48 0 0 1 158.08,574.18 L158.08,577.6 A87.8,87.8 0 0 1 158.08,716.4 L158.08,719.82 A6.48,6.48 0 0 1 151.60000000000002,726.3 L149.10000000000002,726.3 Q148.3,726.3 148.3,727.0999999999999 L148.3,751.7 A3,3 0 0 1 145.3,754.7 L63.5,754.7 A3,3 0 0 1 60.5,751.7 L60.5,727.0999999999999 Q60.5,726.3 59.7,726.3 L57.2,726.3 A6.48,6.48 0 0 1 50.52,719.82 L50.52,716.4 A87.8,87.8 0 0 1 50.52,577.6 L50.52,574.18 A6.48,6.48 0 0 1 57.2,567.7 L59.7,567.7 Q60.5,567.7 60.5,566.9000000000001 L60.5,542.3 A3,3 0 0 1 63.5,539.3 Z"/>
<circle cx="104.3" cy="647.0" r="35.2" class="m"/>
<circle cx="104.3" cy="647.0" r="33.4" class="m" style="stroke-width:0.9"/>
<circle cx="104.3" cy="647.0" r="21.4" class="m"/>
<line x1="12.00" y1="647.00" x2="198.00" y2="647.00" class="c" style="stroke-width:1.4;stroke-dasharray:18 1.6 1.6 1.6"/>
<line x1="104.30" y1="533.00" x2="104.30" y2="764.00" class="c" style="stroke-width:1.4;stroke-dasharray:18 1.6 1.6 1.6"/>
<line x1="205.40" y1="757.00" x2="205.40" y2="801.30" class="g" />
<line x1="273.00" y1="757.00" x2="273.00" y2="801.30" class="g" />
<line x1="205.40" y1="758.70" x2="273.00" y2="758.70" class="t" />
<polygon class="af" points="205.40,758.70 213.40,760.00 213.40,757.40"/>
<polygon class="af" points="273.00,758.70 265.00,757.40 265.00,760.00"/>
<text x="239.00" y="758.40" font-family="Liberation Serif" font-size="9" text-anchor="middle" fill="#222"  stroke="#222" stroke-width="0.25">85</text>
<line x1="256.30" y1="771.80" x2="289.00" y2="771.80" class="g" />
<line x1="256.30" y1="830.70" x2="289.00" y2="830.70" class="g" />
<line x1="287.50" y1="771.80" x2="287.50" y2="830.70" class="t" />
<polygon class="af" points="287.50,771.80 286.20,779.80 288.80,779.80"/>
<polygon class="af" points="287.50,830.70 288.80,822.70 286.20,822.70"/>
<text x="287.00" y="801.50" font-family="Liberation Serif" font-size="9" text-anchor="middle" fill="#222" transform="rotate(-90.00 287.00 801.50)"  stroke="#222" stroke-width="0.25">74</text>
<polygon class="m" style="stroke-width:1.5" points="205.4,801.3 222.2,771.8 256.3,771.8 273.0,801.3 256.3,830.7 222.2,830.7"/>
<circle cx="239.2" cy="801.3" r="29.4" class="m" style="stroke-width:1.5"/>
<circle cx="239.2" cy="801.3" r="18" class="m" style="stroke-width:1.5"/>
<line x1="203.00" y1="801.30" x2="275.20" y2="801.30" class="m" style="stroke-width:1.5"/>
<line x1="239.20" y1="770.50" x2="239.20" y2="833.50" class="m" style="stroke-width:1.5"/>
<line x1="226.20" y1="801.30" x2="228.70" y2="801.30" class="m" style="stroke:#fff;stroke-width:1.8;stroke-linecap:butt"/>
<line x1="249.70" y1="801.30" x2="252.20" y2="801.30" class="m" style="stroke:#fff;stroke-width:1.8;stroke-linecap:butt"/>
<line x1="239.20" y1="788.30" x2="239.20" y2="790.80" class="m" style="stroke:#fff;stroke-width:1.8;stroke-linecap:butt"/>
<line x1="239.20" y1="811.80" x2="239.20" y2="814.30" class="m" style="stroke:#fff;stroke-width:1.8;stroke-linecap:butt"/>
<clipPath id="hc4"><rect x="339.0" y="771.6" width="30.0" height="11.0"/><rect x="339.0" y="819.4" width="30.0" height="11.100000000000023"/></clipPath>
<g clip-path="url(#hc4)">
<path d="M280.10,830.50l58.90,-58.90M283.50,830.50l58.90,-58.90M286.90,830.50l58.90,-58.90M290.30,830.50l58.90,-58.90M293.70,830.50l58.90,-58.90M297.10,830.50l58.90,-58.90M300.50,830.50l58.90,-58.90M303.90,830.50l58.90,-58.90M307.30,830.50l58.90,-58.90M310.70,830.50l58.90,-58.90M314.10,830.50l58.90,-58.90M317.50,830.50l58.90,-58.90M320.90,830.50l58.90,-58.90M324.30,830.50l58.90,-58.90M327.70,830.50l58.90,-58.90M331.10,830.50l58.90,-58.90M334.50,830.50l58.90,-58.90M337.90,830.50l58.90,-58.90M341.30,830.50l58.90,-58.90M344.70,830.50l58.90,-58.90M348.10,830.50l58.90,-58.90M351.50,830.50l58.90,-58.90M354.90,830.50l58.90,-58.90M358.30,830.50l58.90,-58.90M361.70,830.50l58.90,-58.90M365.10,830.50l58.90,-58.90M368.50,830.50l58.90,-58.90" stroke="#909090" stroke-width="0.8" fill="none"/>
</g>
<rect x="339.0" y="771.6" width="30.0" height="58.89999999999998" rx="2.5" class="m" style="stroke-width:1.6"/>
<rect x="340.4" y="782.8" width="27.2" height="36.6" class="k" style="stroke-width:2.1"/>
<line x1="336.50" y1="801.50" x2="372.00" y2="801.50" class="c2" style="stroke-dasharray:15 1.5 1.5 1.5;stroke-width:1.1"/>
<line x1="369.00" y1="782.60" x2="385.50" y2="782.60" class="g" />
<line x1="369.00" y1="820.00" x2="385.50" y2="820.00" class="g" />
<line x1="384.00" y1="782.60" x2="384.00" y2="820.00" class="t" />
<polygon class="af" points="384.00,782.60 382.80,789.60 385.20,789.60"/>
<polygon class="af" points="384.00,820.00 385.20,813.00 382.80,813.00"/>
<text x="383.20" y="801.30" font-family="Liberation Sans" font-size="8.4" text-anchor="middle" fill="#222" transform="rotate(-90.00 383.20 801.30)"  textLength="22" lengthAdjust="spacingAndGlyphs" stroke="#222" stroke-width="0.2">M48*3</text>
<line x1="339.00" y1="830.50" x2="339.00" y2="847.00" class="g" />
<line x1="369.00" y1="830.50" x2="369.00" y2="847.00" class="g" />
<line x1="339.00" y1="845.60" x2="369.00" y2="845.60" class="t" />
<polygon class="af" points="339.00,845.60 347.00,846.90 347.00,844.30"/>
<polygon class="af" points="369.00,845.60 361.00,844.30 361.00,846.90"/>
<text x="353.70" y="845.30" font-family="Liberation Sans" font-size="9.3" text-anchor="middle" fill="#222"  stroke="#222" stroke-width="0.2">36</text>
</svg>
</body></html>
